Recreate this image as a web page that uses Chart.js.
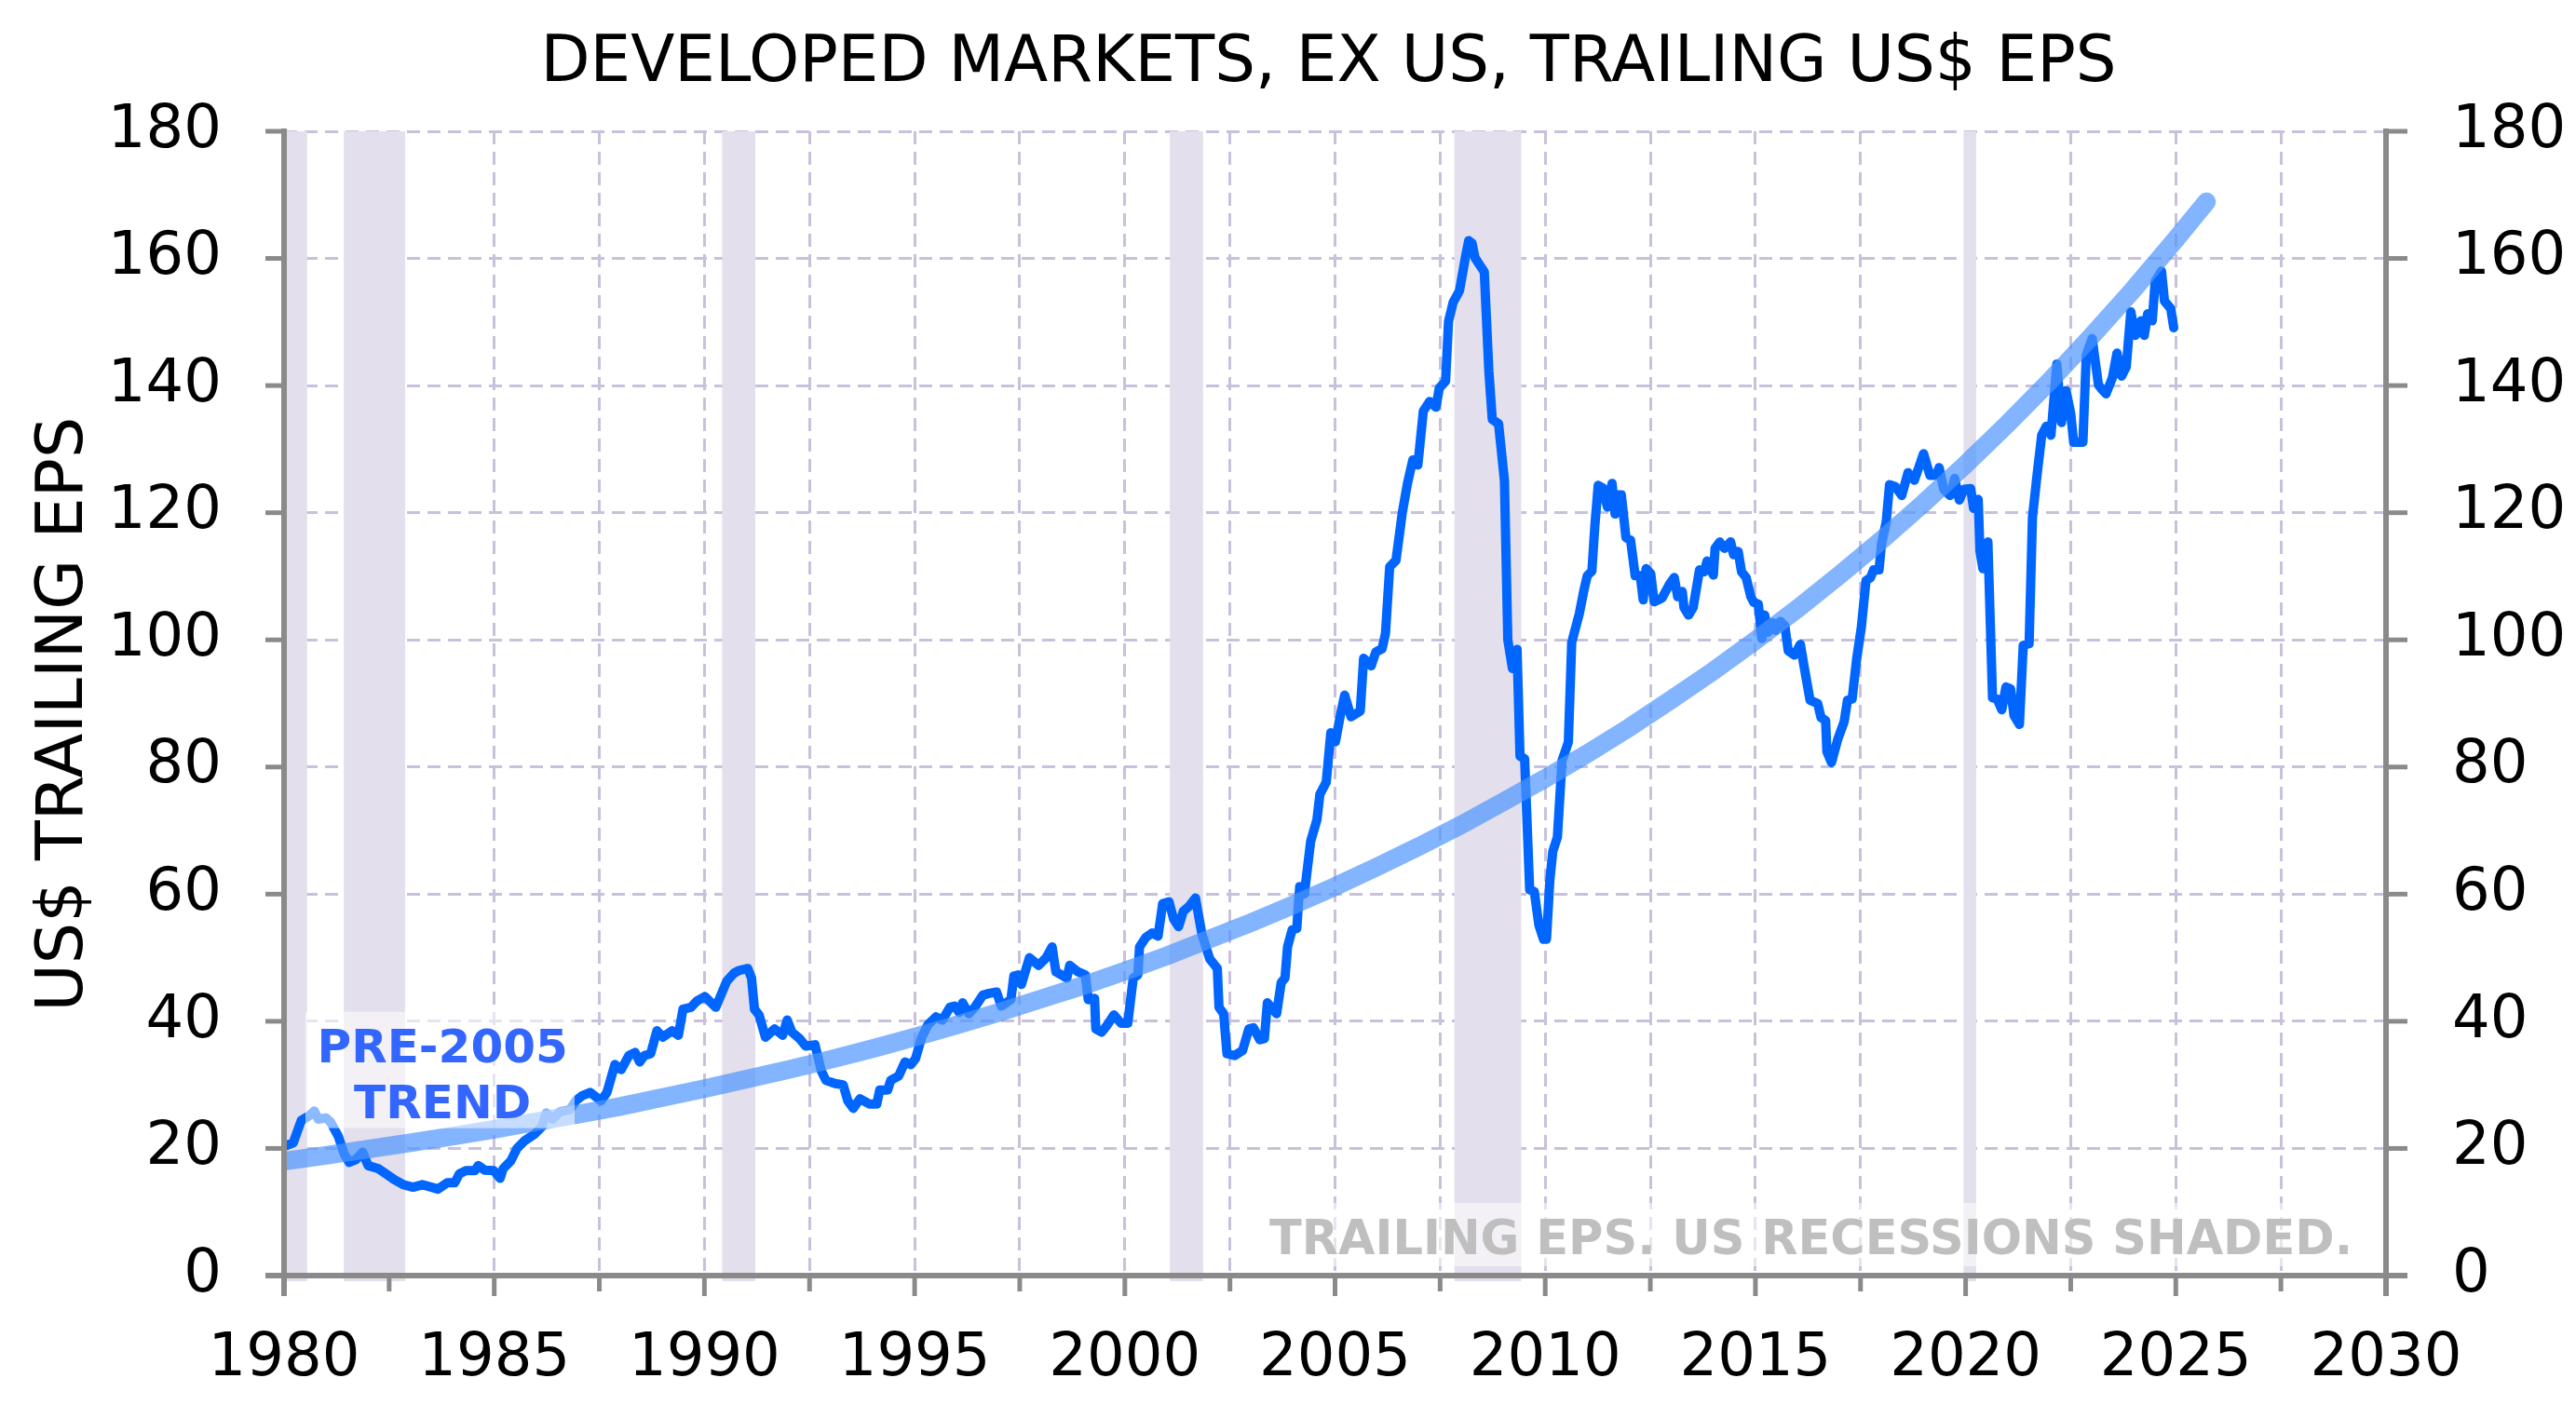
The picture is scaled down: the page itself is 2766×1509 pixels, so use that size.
<!DOCTYPE html>
<html>
<head>
<meta charset="utf-8">
<title>Developed markets, ex US, trailing US$ EPS</title>
<script src="https://cdn.jsdelivr.net/npm/chart.js@4.4.1/dist/chart.umd.min.js"></script>
<style>
  html, body { margin: 0; padding: 0; background: #fff; }
</style>
</head>
<body>
<canvas id="epsChart" width="2766" height="1509"></canvas>
<script>
// trailing EPS (decimal years)
const epsYears = [
  1980.04, 1980.22, 1980.41, 1980.59, 1980.72, 1980.81, 1981.0, 1981.11, 1981.29, 1981.44,
  1981.55, 1981.7, 1981.87, 1982.0, 1982.25, 1982.47, 1982.62, 1982.84, 1983.07, 1983.29,
  1983.51, 1983.66, 1983.88, 1984.06, 1984.17, 1984.32, 1984.54, 1984.62, 1984.77, 1984.99,
  1985.14, 1985.21, 1985.39, 1985.54, 1985.72, 1985.95, 1986.13, 1986.24, 1986.39, 1986.57,
  1986.8, 1986.94, 1987.09, 1987.28, 1987.54, 1987.68, 1987.87, 1988.02, 1988.2, 1988.35,
  1988.46, 1988.57, 1988.72, 1988.87, 1989.01, 1989.23, 1989.38, 1989.49, 1989.68, 1989.82,
  1990.01, 1990.27, 1990.53, 1990.71, 1990.82, 1991.03, 1991.12, 1991.19, 1991.3, 1991.45,
  1991.67, 1991.86, 1991.97, 1992.08, 1992.26, 1992.41, 1992.63, 1992.78, 1992.89, 1993.11,
  1993.3, 1993.41, 1993.54, 1993.7, 1993.92, 1994.1, 1994.17, 1994.36, 1994.43, 1994.62,
  1994.77, 1994.91, 1995.02, 1995.17, 1995.32, 1995.51, 1995.66, 1995.84, 1995.95, 1996.06,
  1996.14, 1996.29, 1996.43, 1996.62, 1996.77, 1996.95, 1997.06, 1997.29, 1997.36, 1997.47,
  1997.54, 1997.73, 1997.95, 1998.13, 1998.27, 1998.36, 1998.62, 1998.69, 1998.88, 1999.06,
  1999.13, 1999.28, 1999.31, 1999.45, 1999.57, 1999.74, 1999.91, 2000.07, 2000.2, 2000.31,
  2000.35, 2000.5, 2000.65, 2000.79, 2000.9, 2001.05, 2001.16, 2001.28, 2001.39, 2001.53,
  2001.68, 2001.83, 2002.02, 2002.2, 2002.24, 2002.35, 2002.43, 2002.61, 2002.8, 2002.95,
  2003.06, 2003.21, 2003.32, 2003.39, 2003.61, 2003.72, 2003.81, 2003.87, 2003.98, 2004.09,
  2004.16, 2004.27, 2004.42, 2004.57, 2004.64, 2004.79, 2004.9, 2005.01, 2005.12, 2005.23,
  2005.38, 2005.6, 2005.68, 2005.86, 2005.97, 2006.12, 2006.2, 2006.3, 2006.45, 2006.6,
  2006.72, 2006.85, 2006.97, 2007.1, 2007.25, 2007.4, 2007.48, 2007.63, 2007.7, 2007.81,
  2007.96, 2008.11, 2008.18, 2008.26, 2008.33, 2008.44, 2008.55, 2008.66, 2008.74, 2008.89,
  2009.03, 2009.11, 2009.22, 2009.33, 2009.4, 2009.51, 2009.63, 2009.74, 2009.85, 2009.96,
  2010.03, 2010.11, 2010.18, 2010.29, 2010.4, 2010.55, 2010.63, 2010.81, 2010.92, 2011.0,
  2011.11, 2011.18, 2011.26, 2011.37, 2011.48, 2011.59, 2011.66, 2011.74, 2011.81, 2011.92,
  2012.03, 2012.14, 2012.26, 2012.33, 2012.4, 2012.51, 2012.59, 2012.7, 2012.78, 2012.96,
  2013.07, 2013.15, 2013.26, 2013.3, 2013.41, 2013.52, 2013.67, 2013.78, 2013.85, 2014.0,
  2014.04, 2014.15, 2014.26, 2014.41, 2014.48, 2014.59, 2014.67, 2014.78, 2014.89, 2014.96,
  2015.07, 2015.15, 2015.22, 2015.3, 2015.41, 2015.48, 2015.59, 2015.7, 2015.78, 2015.93,
  2016.07, 2016.15, 2016.3, 2016.48, 2016.56, 2016.67, 2016.7, 2016.81, 2016.96, 2017.11,
  2017.19, 2017.3, 2017.41, 2017.52, 2017.63, 2017.74, 2017.81, 2017.94, 2018.0, 2018.11,
  2018.19, 2018.33, 2018.48, 2018.63, 2018.78, 2019.0, 2019.15, 2019.3, 2019.37, 2019.48,
  2019.63, 2019.74, 2019.85, 2019.96, 2020.12, 2020.19, 2020.3, 2020.34, 2020.41, 2020.53,
  2020.64, 2020.75, 2020.86, 2020.96, 2021.07, 2021.15, 2021.28, 2021.37, 2021.51, 2021.59,
  2021.7, 2021.81, 2021.92, 2022.03, 2022.17, 2022.28, 2022.39, 2022.5, 2022.57, 2022.79,
  2022.87, 2023.01, 2023.16, 2023.23, 2023.34, 2023.49, 2023.6, 2023.71, 2023.82, 2023.93,
  2024.04, 2024.18, 2024.25, 2024.33, 2024.44, 2024.51, 2024.66, 2024.73, 2024.88, 2024.95
];
const epsValues = [
  20.4, 20.9, 24.4, 25.1, 25.9, 24.6, 24.8, 24.1, 21.9, 19.0,
  17.8, 18.2, 19.4, 17.3, 16.8, 15.8, 15.1, 14.3, 13.9, 14.3,
  13.9, 13.6, 14.6, 14.6, 16.0, 16.5, 16.5, 17.3, 16.6, 16.5,
  15.3, 16.8, 18.0, 20.0, 21.2, 22.2, 23.4, 25.6, 24.6, 25.8,
  26.1, 27.5, 28.3, 28.8, 27.5, 28.8, 33.2, 32.4, 34.6, 35.1,
  33.6, 34.6, 34.9, 38.5, 37.5, 38.5, 37.8, 41.9, 42.2, 43.2,
  43.9, 42.2, 46.3, 47.6, 48.0, 48.3, 46.8, 41.9, 41.0, 37.5,
  38.8, 37.8, 40.2, 38.3, 37.3, 36.1, 36.3, 32.2, 30.7, 30.2,
  30.0, 27.5, 26.3, 27.8, 27.0, 27.0, 29.2, 29.2, 30.7, 31.4,
  33.6, 33.2, 34.1, 37.5, 39.5, 40.7, 40.2, 42.2, 42.4, 41.4,
  42.9, 41.2, 42.2, 44.1, 44.4, 44.6, 42.4, 43.4, 47.1, 47.3,
  45.8, 50.0, 48.8, 50.0, 51.7, 47.8, 46.8, 48.8, 47.8, 47.3,
  43.4, 43.6, 38.8, 38.3, 39.3, 41.0, 39.7, 39.7, 46.8, 47.3,
  51.7, 53.2, 53.9, 53.4, 58.5, 58.8, 56.1, 54.9, 57.3, 58.1,
  59.4, 53.8, 49.8, 48.3, 42.2, 41.2, 34.9, 34.6, 35.4, 38.8,
  39.0, 37.1, 37.3, 42.9, 41.2, 46.1, 46.8, 51.7, 54.4, 54.6,
  61.2, 60.0, 68.3, 71.7, 75.7, 77.6, 85.4, 84.0, 87.9, 91.3,
  87.9, 88.8, 97.1, 95.9, 98.1, 98.6, 101.0, 111.5, 112.5, 120.0,
  124.5, 128.3, 127.5, 136.0, 137.5, 136.6, 139.6, 140.7, 150.1, 153.1,
  154.9, 160.5, 162.8, 162.4, 160.1, 159.0, 157.9, 142.2, 134.7, 134.0,
  125.0, 100.0, 95.5, 98.5, 81.7, 81.3, 60.7, 60.4, 55.1, 52.9,
  52.9, 62.2, 66.7, 69.0, 81.0, 83.9, 99.6, 104.1, 107.8, 110.1,
  110.8, 117.9, 124.3, 123.9, 120.9, 124.6, 119.8, 122.8, 122.8, 116.1,
  115.7, 110.1, 110.1, 106.3, 111.2, 110.4, 106.0, 106.3, 106.6, 108.8,
  109.8, 106.8, 107.6, 105.1, 103.9, 105.1, 111.0, 110.7, 112.4, 110.2,
  114.4, 115.4, 114.4, 115.4, 113.4, 113.9, 110.7, 109.8, 106.8, 105.9,
  105.6, 100.2, 103.9, 101.2, 102.7, 101.5, 102.9, 102.2, 98.3, 97.6,
  99.3, 96.1, 90.5, 90.0, 87.8, 87.3, 82.4, 80.7, 84.4, 87.1,
  90.5, 90.7, 97.1, 102.0, 109.3, 109.8, 111.0, 111.0, 115.1, 118.5,
  124.4, 124.1, 122.7, 126.3, 125.1, 129.3, 125.9, 125.9, 127.1, 123.7,
  122.7, 125.4, 122.0, 123.7, 123.8, 120.7, 122.1, 114.0, 111.2, 115.4,
  90.9, 90.7, 89.0, 92.6, 92.3, 88.1, 86.7, 99.1, 99.4, 119.3,
  126.0, 132.2, 133.6, 132.2, 143.4, 134.2, 139.2, 135.6, 131.1, 131.1,
  144.8, 147.4, 140.1, 139.5, 138.7, 141.2, 145.1, 141.5, 142.9, 151.6,
  147.9, 150.2, 147.9, 151.3, 150.2, 156.4, 158.0, 153.3, 152.1, 149.1
];

// pre-2005 trend line, read at each year end
const trendYears = [
  1980, 1981, 1982, 1983, 1984, 1985, 1986, 1987, 1988, 1989,
  1990, 1991, 1992, 1993, 1994, 1995, 1996, 1997, 1998, 1999,
  2000, 2001, 2002, 2003, 2004, 2005, 2006, 2007, 2008, 2009,
  2010, 2011, 2012, 2013, 2014, 2015, 2016, 2017, 2018, 2019,
  2020, 2021, 2022, 2023, 2024, 2025, 2025.73
];
const trendValues = [
  18.0, 18.9, 19.9, 20.9, 21.9, 23.0, 24.2, 25.4, 26.6, 28.0,
  29.4, 30.9, 32.4, 34.0, 35.7, 37.5, 39.4, 41.4, 43.5, 45.6,
  47.9, 50.3, 52.9, 55.5, 58.3, 61.2, 64.3, 67.5, 70.9, 74.5,
  78.2, 82.1, 86.2, 90.6, 95.1, 99.9, 104.9, 110.2, 115.7, 121.5,
  127.6, 134.0, 140.7, 147.8, 155.2, 163.0, 168.9
];

// US recessions, start / end as decimal years
const recessionStart = [1980.0, 1981.42, 1990.42, 2001.07, 2007.84, 2019.95];
const recessionEnd   = [1980.55, 1982.88, 1991.21, 2001.86, 2009.43, 2020.25];

const FONT = "'DejaVu Sans', Verdana, sans-serif";
const AXIS_GREY = "#8a8a8a";
const GRID_LILAC = "#c9c0dc";

const shading = {
  id: "shading",
  beforeDatasetsDraw(chart) {
    const { ctx, chartArea, scales } = chart;
    ctx.save();
    ctx.fillStyle = "#e4dfec";
    recessionStart.forEach((s, i) => {
      const x1 = scales.x.getPixelForValue(s);
      const x2 = scales.x.getPixelForValue(recessionEnd[i]);
      ctx.fillRect(x1, chartArea.top, x2 - x1, chartArea.bottom - chartArea.top + 6);
    });
    ctx.restore();
  }
};

const frame = {
  id: "frame",
  afterDatasetsDraw(chart) {
    const { ctx, chartArea: a, scales } = chart;
    const line = (x1, y1, x2, y2, w) => {
      ctx.lineWidth = w;
      ctx.beginPath();
      ctx.moveTo(x1, y1);
      ctx.lineTo(x2, y2);
      ctx.stroke();
    };
    ctx.save();
    ctx.strokeStyle = AXIS_GREY;
    scales.y.ticks.forEach(t => {
      const py = scales.y.getPixelForValue(t.value);
      line(a.left - 20, py, a.left, py, 5);
      line(a.right, py, a.right + 23, py, 5);
    });
    scales.x.ticks.forEach(t => {
      const px = scales.x.getPixelForValue(t.value);
      line(px, a.bottom, px, a.bottom + (t.value % 5 === 0 ? 22 : 17), 5);
    });
    line(a.left, a.top - 3, a.left, a.bottom + 22, 6);
    line(a.right, a.top - 3, a.right, a.bottom + 22, 6);
    line(a.left - 20, a.bottom, a.right + 23, a.bottom, 6);

    // notes, on a faded white box
    const x = scales.x, y = scales.y;
    ctx.fillStyle = "rgba(255,255,255,0.55)";
    ctx.fillRect(a.left + 23, y.getPixelForValue(41.5), 289, 125);
    ctx.fillRect(a.left + 1045, a.bottom - 78, 1188, 68);

    ctx.textAlign = "center";
    ctx.textBaseline = "alphabetic";
    ctx.font = "bold 50px " + FONT;
    ctx.fillStyle = "#3366ff";
    const cx = x.getPixelForValue(1983.77);
    ctx.fillText("PRE-2005", cx, y.getPixelForValue(33.6));
    ctx.fillText("TREND", cx, y.getPixelForValue(24.7));

    ctx.font = "bold 51px " + FONT;
    ctx.fillStyle = "#bfbfbf";
    ctx.textAlign = "right";
    ctx.fillText("TRAILING EPS. US RECESSIONS SHADED.", a.right - 36, a.bottom - 23);
    ctx.restore();
  },
  afterDraw(chart) {
    const { ctx, chartArea: a } = chart;
    ctx.save();
    ctx.fillStyle = "#000";
    ctx.textAlign = "center";
    ctx.textBaseline = "alphabetic";
    ctx.font = "69px " + FONT;
    ctx.fillText("DEVELOPED MARKETS, EX US, TRAILING US$ EPS", (a.left + a.right) / 2 - 7, 87);
    ctx.font = "70px " + FONT;
    ctx.translate(88, 767);
    ctx.rotate(-Math.PI / 2);
    ctx.fillText("US$ TRAILING EPS", 0, 0);
    ctx.restore();
  }
};

const tickFont = { family: FONT, size: 64 };

new Chart(document.getElementById("epsChart"), {
  type: "line",
  data: {
    datasets: [{
      label: "Pre-2005 trend",
      data: trendYears.map((yr, i) => ({ x: yr, y: trendValues[i] })),
      borderColor: "rgba(77,148,255,0.7)",
      borderWidth: 20,
      borderCapStyle: "round",
      pointRadius: 0,
      order: 0
    }, {
      label: "Trailing EPS",
      data: epsYears.map((yr, i) => ({ x: yr, y: epsValues[i] })),
      borderColor: "#0066ff",
      borderWidth: 10,
      borderCapStyle: "round",
      borderJoinStyle: "round",
      pointRadius: 0,
      order: 1
    }]
  },
  options: {
    responsive: false,
    animation: false,
    devicePixelRatio: 1,
    layout: { padding: { top: 141 } },
    plugins: {
      legend: { display: false },
      tooltip: { enabled: false }
    },
    scales: {
      x: {
        type: "linear",
        min: 1980,
        max: 2030,
        afterFit: s => { s.height = 139; },
        ticks: {
          stepSize: 2.5,
          autoSkip: false,
          maxRotation: 0,
          padding: 52,
          color: "#000",
          font: tickFont,
          callback: v => (v % 5 === 0 ? String(v) : "")
        },
        grid: { color: GRID_LILAC, lineWidth: 3, drawTicks: false },
        border: { display: false, dash: [14, 8] }
      },
      y: {
        position: "left",
        min: 0,
        max: 180,
        afterFit: s => { s.width = 305; },
        ticks: { stepSize: 20, padding: 67, color: "#000", font: tickFont },
        grid: { color: GRID_LILAC, lineWidth: 3, drawTicks: false },
        border: { display: false, dash: [14, 8] }
      },
      y2: {
        position: "right",
        min: 0,
        max: 180,
        afterFit: s => { s.width = 204; },
        ticks: { stepSize: 20, padding: 71, color: "#000", font: tickFont },
        grid: { drawOnChartArea: false, drawTicks: false },
        border: { display: false }
      }
    }
  },
  plugins: [shading, frame]
});
</script>
</body>
</html>
